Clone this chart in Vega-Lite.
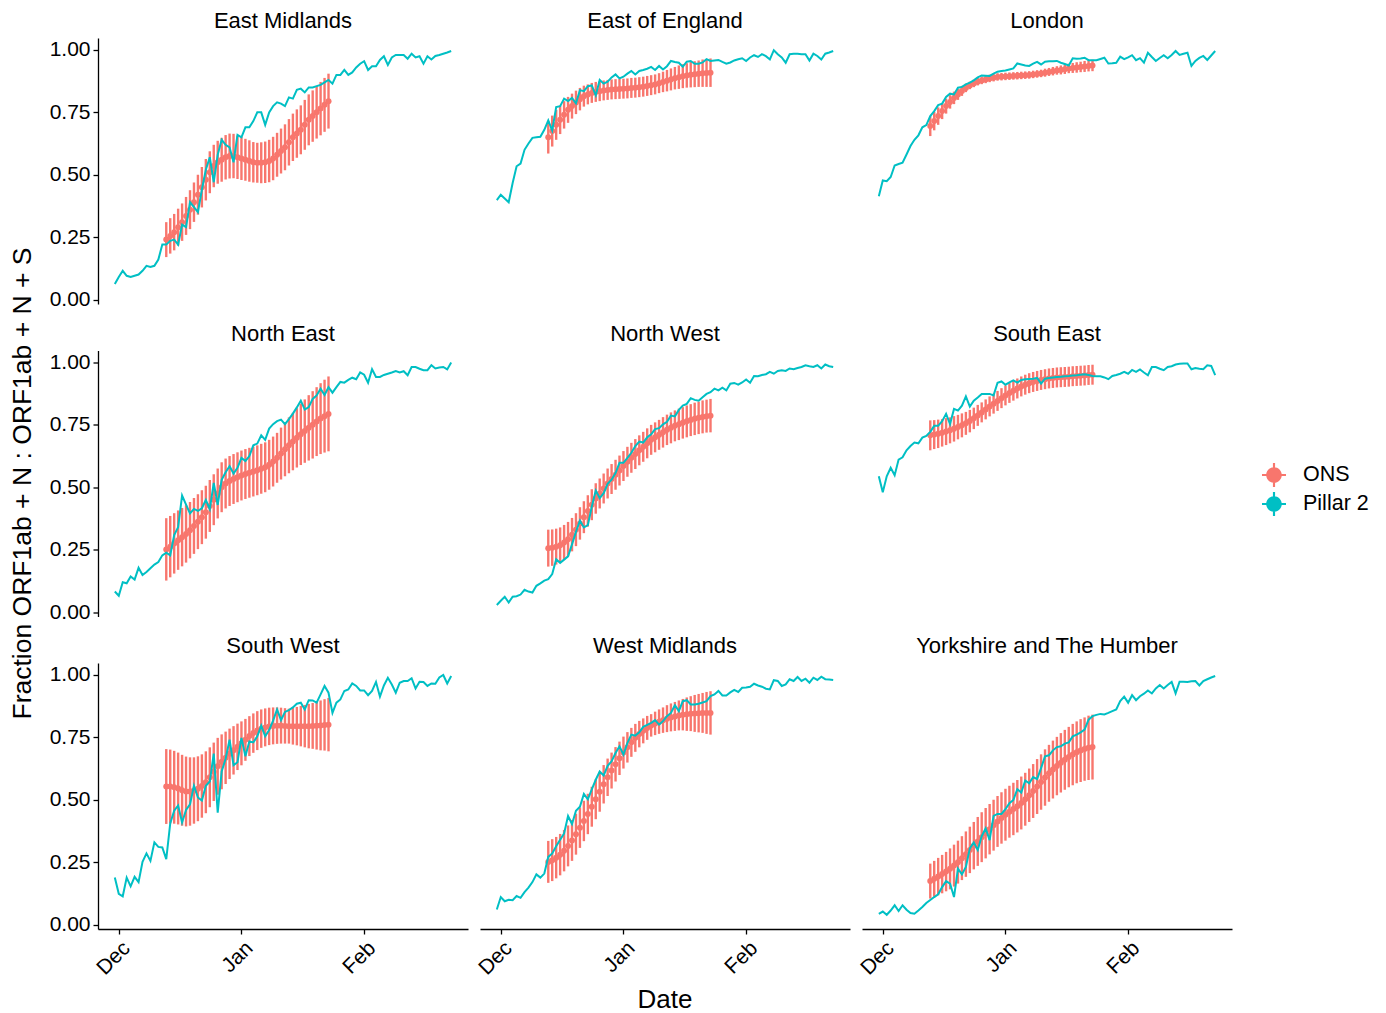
{"$schema":"https://vega.github.io/schema/vega-lite/v6.json","padding":{"left":9,"top":10,"right":5,"bottom":5},
"title":{"text":"Fraction ORF1ab + N : ORF1ab + N + S","orient":"left","anchor":"middle","fontSize":26.5,"font":"Liberation Sans","fontWeight":"normal","color":"black","offset":13,"dx":28},
"data":{"values":[
{"r":"a","t":"2020-11-30","p":0.062},{"r":"a","t":"2020-12-01","p":0.09},{"r":"a","t":"2020-12-02","p":0.115},{"r":"a","t":"2020-12-03","p":0.095},{"r":"a","t":"2020-12-04","p":0.09},{"r":"a","t":"2020-12-05","p":0.095},{"r":"a","t":"2020-12-06","p":0.1},{"r":"a","t":"2020-12-07","p":0.115},{"r":"a","t":"2020-12-08","p":0.135},{"r":"a","t":"2020-12-09","p":0.13},{"r":"a","t":"2020-12-10","p":0.135},{"r":"a","t":"2020-12-11","p":0.16},{"r":"a","t":"2020-12-12","p":0.22},
{"r":"a","t":"2020-12-13","p":0.22,"o":0.24,"e":0.07},{"r":"a","t":"2020-12-14","p":0.235,"o":0.255,"e":0.071},{"r":"a","t":"2020-12-15","p":0.24,"o":0.27,"e":0.073},{"r":"a","t":"2020-12-16","p":0.22,"o":0.29,"e":0.074},{"r":"a","t":"2020-12-17","p":0.3,"o":0.31,"e":0.075},{"r":"a","t":"2020-12-18","p":0.29,"o":0.335,"e":0.076},{"r":"a","t":"2020-12-19","p":0.39,"o":0.36,"e":0.078},{"r":"a","t":"2020-12-20","p":0.37,"o":0.39,"e":0.079},{"r":"a","t":"2020-12-21","p":0.35,"o":0.42,"e":0.08},{"r":"a","t":"2020-12-22","p":0.44,"o":0.45,"e":0.081},{"r":"a","t":"2020-12-23","p":0.52,"o":0.48,"e":0.083},{"r":"a","t":"2020-12-24","p":0.57,"o":0.51,"e":0.084},{"r":"a","t":"2020-12-25","p":0.47,"o":0.535,"e":0.085},{"r":"a","t":"2020-12-26","p":0.58,"o":0.55,"e":0.086},{"r":"a","t":"2020-12-27","p":0.64,"o":0.56,"e":0.088},{"r":"a","t":"2020-12-28","p":0.62,"o":0.57,"e":0.089},{"r":"a","t":"2020-12-29","p":0.61,"o":0.575,"e":0.09},{"r":"a","t":"2020-12-30","p":0.55,"o":0.575,"e":0.089},{"r":"a","t":"2020-12-31","p":0.66,"o":0.57,"e":0.087},{"r":"a","t":"2021-01-01","p":0.65,"o":0.565,"e":0.086},{"r":"a","t":"2021-01-02","p":0.69,"o":0.56,"e":0.084},{"r":"a","t":"2021-01-03","p":0.69,"o":0.555,"e":0.083},{"r":"a","t":"2021-01-04","p":0.715,"o":0.55,"e":0.081},{"r":"a","t":"2021-01-05","p":0.75,"o":0.548,"e":0.08},{"r":"a","t":"2021-01-06","p":0.75,"o":0.548,"e":0.082},{"r":"a","t":"2021-01-07","p":0.7,"o":0.55,"e":0.083},{"r":"a","t":"2021-01-08","p":0.75,"o":0.555,"e":0.085},{"r":"a","t":"2021-01-09","p":0.775,"o":0.565,"e":0.087},{"r":"a","t":"2021-01-10","p":0.79,"o":0.58,"e":0.088},{"r":"a","t":"2021-01-11","p":0.785,"o":0.595,"e":0.09},{"r":"a","t":"2021-01-12","p":0.775,"o":0.61,"e":0.092},{"r":"a","t":"2021-01-13","p":0.81,"o":0.63,"e":0.093},{"r":"a","t":"2021-01-14","p":0.805,"o":0.65,"e":0.095},{"r":"a","t":"2021-01-15","p":0.84,"o":0.665,"e":0.097},{"r":"a","t":"2021-01-16","p":0.845,"o":0.68,"e":0.098},{"r":"a","t":"2021-01-17","p":0.83,"o":0.7,"e":0.1},{"r":"a","t":"2021-01-18","p":0.85,"o":0.72,"e":0.102},{"r":"a","t":"2021-01-19","p":0.85,"o":0.735,"e":0.103},{"r":"a","t":"2021-01-20","p":0.855,"o":0.75,"e":0.105},{"r":"a","t":"2021-01-21","p":0.86,"o":0.765,"e":0.107},{"r":"a","t":"2021-01-22","p":0.87,"o":0.78,"e":0.108},{"r":"a","t":"2021-01-23","p":0.88,"o":0.795,"e":0.11},
{"r":"a","t":"2021-01-24","p":0.865},{"r":"a","t":"2021-01-25","p":0.9},{"r":"a","t":"2021-01-26","p":0.9},{"r":"a","t":"2021-01-27","p":0.92},{"r":"a","t":"2021-01-28","p":0.9},{"r":"a","t":"2021-01-29","p":0.91},{"r":"a","t":"2021-01-30","p":0.93},{"r":"a","t":"2021-01-31","p":0.945},{"r":"a","t":"2021-02-01","p":0.955},{"r":"a","t":"2021-02-02","p":0.92},{"r":"a","t":"2021-02-03","p":0.935},{"r":"a","t":"2021-02-04","p":0.935},{"r":"a","t":"2021-02-05","p":0.96},{"r":"a","t":"2021-02-06","p":0.975},{"r":"a","t":"2021-02-07","p":0.94},{"r":"a","t":"2021-02-08","p":0.97},{"r":"a","t":"2021-02-09","p":0.98},{"r":"a","t":"2021-02-10","p":0.98},{"r":"a","t":"2021-02-11","p":0.98},{"r":"a","t":"2021-02-12","p":0.965},{"r":"a","t":"2021-02-13","p":0.985},{"r":"a","t":"2021-02-14","p":0.97},{"r":"a","t":"2021-02-15","p":0.975},{"r":"a","t":"2021-02-16","p":0.945},{"r":"a","t":"2021-02-17","p":0.975},{"r":"a","t":"2021-02-18","p":0.962},{"r":"a","t":"2021-02-19","p":0.976},{"r":"a","t":"2021-02-20","p":0.98},{"r":"a","t":"2021-02-21","p":0.985},{"r":"a","t":"2021-02-22","p":0.99},{"r":"a","t":"2021-02-23","p":0.996},
{"r":"b","t":"2020-11-30","p":0.398},{"r":"b","t":"2020-12-01","p":0.42},{"r":"b","t":"2020-12-02","p":0.405},{"r":"b","t":"2020-12-03","p":0.39},{"r":"b","t":"2020-12-04","p":0.467},{"r":"b","t":"2020-12-05","p":0.534},{"r":"b","t":"2020-12-06","p":0.545},{"r":"b","t":"2020-12-07","p":0.6},{"r":"b","t":"2020-12-08","p":0.625},{"r":"b","t":"2020-12-09","p":0.648},{"r":"b","t":"2020-12-10","p":0.65},{"r":"b","t":"2020-12-11","p":0.652},{"r":"b","t":"2020-12-12","p":0.68},
{"r":"b","t":"2020-12-13","p":0.718,"o":0.65,"e":0.065},{"r":"b","t":"2020-12-14","p":0.677,"o":0.675,"e":0.062},{"r":"b","t":"2020-12-15","p":0.771,"o":0.7,"e":0.06},{"r":"b","t":"2020-12-16","p":0.775,"o":0.72,"e":0.057},{"r":"b","t":"2020-12-17","p":0.805,"o":0.74,"e":0.055},{"r":"b","t":"2020-12-18","p":0.795,"o":0.76,"e":0.052},{"r":"b","t":"2020-12-19","p":0.808,"o":0.775,"e":0.05},{"r":"b","t":"2020-12-20","p":0.786,"o":0.79,"e":0.047},{"r":"b","t":"2020-12-21","p":0.839,"o":0.803,"e":0.045},{"r":"b","t":"2020-12-22","p":0.835,"o":0.815,"e":0.042},{"r":"b","t":"2020-12-23","p":0.855,"o":0.822,"e":0.04},{"r":"b","t":"2020-12-24","p":0.858,"o":0.828,"e":0.04},{"r":"b","t":"2020-12-25","p":0.818,"o":0.832,"e":0.04},{"r":"b","t":"2020-12-26","p":0.88,"o":0.835,"e":0.04},{"r":"b","t":"2020-12-27","p":0.865,"o":0.838,"e":0.04},{"r":"b","t":"2020-12-28","p":0.873,"o":0.84,"e":0.04},{"r":"b","t":"2020-12-29","p":0.89,"o":0.842,"e":0.04},{"r":"b","t":"2020-12-30","p":0.902,"o":0.843,"e":0.04},{"r":"b","t":"2020-12-31","p":0.886,"o":0.844,"e":0.04},{"r":"b","t":"2021-01-01","p":0.893,"o":0.845,"e":0.04},{"r":"b","t":"2021-01-02","p":0.905,"o":0.846,"e":0.04},{"r":"b","t":"2021-01-03","p":0.916,"o":0.848,"e":0.04},{"r":"b","t":"2021-01-04","p":0.902,"o":0.849,"e":0.04},{"r":"b","t":"2021-01-05","p":0.916,"o":0.851,"e":0.04},{"r":"b","t":"2021-01-06","p":0.92,"o":0.853,"e":0.04},{"r":"b","t":"2021-01-07","p":0.925,"o":0.856,"e":0.04},{"r":"b","t":"2021-01-08","p":0.932,"o":0.859,"e":0.04},{"r":"b","t":"2021-01-09","p":0.92,"o":0.862,"e":0.04},{"r":"b","t":"2021-01-10","p":0.936,"o":0.867,"e":0.04},{"r":"b","t":"2021-01-11","p":0.922,"o":0.872,"e":0.041},{"r":"b","t":"2021-01-12","p":0.935,"o":0.877,"e":0.043},{"r":"b","t":"2021-01-13","p":0.956,"o":0.882,"e":0.044},{"r":"b","t":"2021-01-14","p":0.952,"o":0.887,"e":0.045},{"r":"b","t":"2021-01-15","p":0.949,"o":0.891,"e":0.047},{"r":"b","t":"2021-01-16","p":0.933,"o":0.895,"e":0.048},{"r":"b","t":"2021-01-17","p":0.953,"o":0.898,"e":0.049},{"r":"b","t":"2021-01-18","p":0.956,"o":0.901,"e":0.051},{"r":"b","t":"2021-01-19","p":0.945,"o":0.903,"e":0.052},{"r":"b","t":"2021-01-20","p":0.945,"o":0.905,"e":0.053},{"r":"b","t":"2021-01-21","p":0.95,"o":0.907,"e":0.055},{"r":"b","t":"2021-01-22","p":0.963,"o":0.908,"e":0.056},{"r":"b","t":"2021-01-23","p":0.956,"o":0.909,"e":0.057},
{"r":"b","t":"2021-01-24","p":0.958},{"r":"b","t":"2021-01-25","p":0.96},{"r":"b","t":"2021-01-26","p":0.952},{"r":"b","t":"2021-01-27","p":0.945},{"r":"b","t":"2021-01-28","p":0.95},{"r":"b","t":"2021-01-29","p":0.958},{"r":"b","t":"2021-01-30","p":0.963},{"r":"b","t":"2021-01-31","p":0.967},{"r":"b","t":"2021-02-01","p":0.956},{"r":"b","t":"2021-02-02","p":0.97},{"r":"b","t":"2021-02-03","p":0.979},{"r":"b","t":"2021-02-04","p":0.972},{"r":"b","t":"2021-02-05","p":0.983},{"r":"b","t":"2021-02-06","p":0.975},{"r":"b","t":"2021-02-07","p":0.962},{"r":"b","t":"2021-02-08","p":0.999},{"r":"b","t":"2021-02-09","p":0.983},{"r":"b","t":"2021-02-10","p":0.97},{"r":"b","t":"2021-02-11","p":0.949},{"r":"b","t":"2021-02-12","p":0.983},{"r":"b","t":"2021-02-13","p":0.985},{"r":"b","t":"2021-02-14","p":0.985},{"r":"b","t":"2021-02-15","p":0.983},{"r":"b","t":"2021-02-16","p":0.983},{"r":"b","t":"2021-02-17","p":0.958},{"r":"b","t":"2021-02-18","p":0.985},{"r":"b","t":"2021-02-19","p":0.976},{"r":"b","t":"2021-02-20","p":0.962},{"r":"b","t":"2021-02-21","p":0.985},{"r":"b","t":"2021-02-22","p":0.99},{"r":"b","t":"2021-02-23","p":0.996},
{"r":"c","t":"2020-11-30","p":0.414},{"r":"c","t":"2020-12-01","p":0.477},{"r":"c","t":"2020-12-02","p":0.474},{"r":"c","t":"2020-12-03","p":0.491},{"r":"c","t":"2020-12-04","p":0.537},{"r":"c","t":"2020-12-05","p":0.543},{"r":"c","t":"2020-12-06","p":0.548},{"r":"c","t":"2020-12-07","p":0.581},{"r":"c","t":"2020-12-08","p":0.615},{"r":"c","t":"2020-12-09","p":0.64},{"r":"c","t":"2020-12-10","p":0.658},{"r":"c","t":"2020-12-11","p":0.69},{"r":"c","t":"2020-12-12","p":0.699},
{"r":"c","t":"2020-12-13","p":0.735,"o":0.695,"e":0.04},{"r":"c","t":"2020-12-14","p":0.755,"o":0.715,"e":0.037},{"r":"c","t":"2020-12-15","p":0.779,"o":0.735,"e":0.035},{"r":"c","t":"2020-12-16","p":0.785,"o":0.755,"e":0.032},{"r":"c","t":"2020-12-17","p":0.812,"o":0.775,"e":0.03},{"r":"c","t":"2020-12-18","p":0.825,"o":0.792,"e":0.027},{"r":"c","t":"2020-12-19","p":0.822,"o":0.808,"e":0.025},{"r":"c","t":"2020-12-20","p":0.849,"o":0.822,"e":0.022},{"r":"c","t":"2020-12-21","p":0.852,"o":0.836,"e":0.02},{"r":"c","t":"2020-12-22","p":0.862,"o":0.848,"e":0.017},{"r":"c","t":"2020-12-23","p":0.869,"o":0.858,"e":0.015},{"r":"c","t":"2020-12-24","p":0.878,"o":0.866,"e":0.015},{"r":"c","t":"2020-12-25","p":0.89,"o":0.873,"e":0.015},{"r":"c","t":"2020-12-26","p":0.898,"o":0.878,"e":0.015},{"r":"c","t":"2020-12-27","p":0.897,"o":0.882,"e":0.015},{"r":"c","t":"2020-12-28","p":0.896,"o":0.886,"e":0.015},{"r":"c","t":"2020-12-29","p":0.905,"o":0.889,"e":0.015},{"r":"c","t":"2020-12-30","p":0.913,"o":0.892,"e":0.015},{"r":"c","t":"2020-12-31","p":0.916,"o":0.893,"e":0.015},{"r":"c","t":"2021-01-01","p":0.918,"o":0.894,"e":0.015},{"r":"c","t":"2021-01-02","p":0.922,"o":0.895,"e":0.015},{"r":"c","t":"2021-01-03","p":0.926,"o":0.896,"e":0.015},{"r":"c","t":"2021-01-04","p":0.946,"o":0.897,"e":0.015},{"r":"c","t":"2021-01-05","p":0.942,"o":0.898,"e":0.015},{"r":"c","t":"2021-01-06","p":0.938,"o":0.899,"e":0.015},{"r":"c","t":"2021-01-07","p":0.936,"o":0.9,"e":0.015},{"r":"c","t":"2021-01-08","p":0.945,"o":0.902,"e":0.015},{"r":"c","t":"2021-01-09","p":0.952,"o":0.904,"e":0.015},{"r":"c","t":"2021-01-10","p":0.942,"o":0.906,"e":0.015},{"r":"c","t":"2021-01-11","p":0.953,"o":0.909,"e":0.016},{"r":"c","t":"2021-01-12","p":0.955,"o":0.912,"e":0.016},{"r":"c","t":"2021-01-13","p":0.955,"o":0.915,"e":0.017},{"r":"c","t":"2021-01-14","p":0.956,"o":0.918,"e":0.017},{"r":"c","t":"2021-01-15","p":0.949,"o":0.92,"e":0.018},{"r":"c","t":"2021-01-16","p":0.944,"o":0.923,"e":0.019},{"r":"c","t":"2021-01-17","p":0.938,"o":0.926,"e":0.019},{"r":"c","t":"2021-01-18","p":0.967,"o":0.928,"e":0.02},{"r":"c","t":"2021-01-19","p":0.965,"o":0.93,"e":0.021},{"r":"c","t":"2021-01-20","p":0.966,"o":0.932,"e":0.021},{"r":"c","t":"2021-01-21","p":0.969,"o":0.934,"e":0.022},{"r":"c","t":"2021-01-22","p":0.959,"o":0.936,"e":0.022},{"r":"c","t":"2021-01-23","p":0.959,"o":0.938,"e":0.023},
{"r":"c","t":"2021-01-24","p":0.959},{"r":"c","t":"2021-01-25","p":0.964},{"r":"c","t":"2021-01-26","p":0.969},{"r":"c","t":"2021-01-27","p":0.946},{"r":"c","t":"2021-01-28","p":0.947},{"r":"c","t":"2021-01-29","p":0.949},{"r":"c","t":"2021-01-30","p":0.973},{"r":"c","t":"2021-01-31","p":0.963},{"r":"c","t":"2021-02-01","p":0.97},{"r":"c","t":"2021-02-02","p":0.979},{"r":"c","t":"2021-02-03","p":0.959},{"r":"c","t":"2021-02-04","p":0.967},{"r":"c","t":"2021-02-05","p":0.949},{"r":"c","t":"2021-02-06","p":0.989},{"r":"c","t":"2021-02-07","p":0.972},{"r":"c","t":"2021-02-08","p":0.956},{"r":"c","t":"2021-02-09","p":0.968},{"r":"c","t":"2021-02-10","p":0.979},{"r":"c","t":"2021-02-11","p":0.967},{"r":"c","t":"2021-02-12","p":0.98},{"r":"c","t":"2021-02-13","p":0.996},{"r":"c","t":"2021-02-14","p":0.98},{"r":"c","t":"2021-02-15","p":0.985},{"r":"c","t":"2021-02-16","p":0.989},{"r":"c","t":"2021-02-17","p":0.936},{"r":"c","t":"2021-02-18","p":0.956},{"r":"c","t":"2021-02-19","p":0.968},{"r":"c","t":"2021-02-20","p":0.976},{"r":"c","t":"2021-02-21","p":0.96},{"r":"c","t":"2021-02-22","p":0.978},{"r":"c","t":"2021-02-23","p":0.996},
{"r":"d","t":"2020-11-30","p":0.082},{"r":"d","t":"2020-12-01","p":0.065},{"r":"d","t":"2020-12-02","p":0.119},{"r":"d","t":"2020-12-03","p":0.115},{"r":"d","t":"2020-12-04","p":0.142},{"r":"d","t":"2020-12-05","p":0.13},{"r":"d","t":"2020-12-06","p":0.177},{"r":"d","t":"2020-12-07","p":0.148},{"r":"d","t":"2020-12-08","p":0.16},{"r":"d","t":"2020-12-09","p":0.175},{"r":"d","t":"2020-12-10","p":0.19},{"r":"d","t":"2020-12-11","p":0.2},{"r":"d","t":"2020-12-12","p":0.227},
{"r":"d","t":"2020-12-13","p":0.238,"o":0.251,"e":0.125},{"r":"d","t":"2020-12-14","p":0.227,"o":0.262,"e":0.123},{"r":"d","t":"2020-12-15","p":0.308,"o":0.275,"e":0.121},{"r":"d","t":"2020-12-16","p":0.34,"o":0.288,"e":0.119},{"r":"d","t":"2020-12-17","p":0.467,"o":0.3,"e":0.117},{"r":"d","t":"2020-12-18","p":0.43,"o":0.313,"e":0.115},{"r":"d","t":"2020-12-19","p":0.395,"o":0.328,"e":0.113},{"r":"d","t":"2020-12-20","p":0.413,"o":0.345,"e":0.112},{"r":"d","t":"2020-12-21","p":0.405,"o":0.362,"e":0.11},{"r":"d","t":"2020-12-22","p":0.416,"o":0.38,"e":0.108},{"r":"d","t":"2020-12-23","p":0.449,"o":0.4,"e":0.106},{"r":"d","t":"2020-12-24","p":0.412,"o":0.425,"e":0.104},{"r":"d","t":"2020-12-25","p":0.517,"o":0.45,"e":0.102},{"r":"d","t":"2020-12-26","p":0.429,"o":0.475,"e":0.1},{"r":"d","t":"2020-12-27","p":0.53,"o":0.5,"e":0.1},{"r":"d","t":"2020-12-28","p":0.56,"o":0.515,"e":0.1},{"r":"d","t":"2020-12-29","p":0.584,"o":0.525,"e":0.1},{"r":"d","t":"2020-12-30","p":0.555,"o":0.533,"e":0.1},{"r":"d","t":"2020-12-31","p":0.578,"o":0.54,"e":0.1},{"r":"d","t":"2021-01-01","p":0.618,"o":0.547,"e":0.1},{"r":"d","t":"2021-01-02","p":0.605,"o":0.553,"e":0.1},{"r":"d","t":"2021-01-03","p":0.625,"o":0.558,"e":0.1},{"r":"d","t":"2021-01-04","p":0.668,"o":0.563,"e":0.1},{"r":"d","t":"2021-01-05","p":0.675,"o":0.568,"e":0.1},{"r":"d","t":"2021-01-06","p":0.708,"o":0.574,"e":0.1},{"r":"d","t":"2021-01-07","p":0.69,"o":0.58,"e":0.1},{"r":"d","t":"2021-01-08","p":0.735,"o":0.59,"e":0.1},{"r":"d","t":"2021-01-09","p":0.753,"o":0.603,"e":0.1},{"r":"d","t":"2021-01-10","p":0.765,"o":0.618,"e":0.1},{"r":"d","t":"2021-01-11","p":0.771,"o":0.635,"e":0.104},{"r":"d","t":"2021-01-12","p":0.753,"o":0.652,"e":0.108},{"r":"d","t":"2021-01-13","p":0.773,"o":0.668,"e":0.112},{"r":"d","t":"2021-01-14","p":0.795,"o":0.683,"e":0.115},{"r":"d","t":"2021-01-15","p":0.82,"o":0.698,"e":0.119},{"r":"d","t":"2021-01-16","p":0.847,"o":0.712,"e":0.123},{"r":"d","t":"2021-01-17","p":0.811,"o":0.725,"e":0.127},{"r":"d","t":"2021-01-18","p":0.821,"o":0.738,"e":0.131},{"r":"d","t":"2021-01-19","p":0.854,"o":0.75,"e":0.135},{"r":"d","t":"2021-01-20","p":0.868,"o":0.763,"e":0.138},{"r":"d","t":"2021-01-21","p":0.895,"o":0.775,"e":0.142},{"r":"d","t":"2021-01-22","p":0.87,"o":0.785,"e":0.146},{"r":"d","t":"2021-01-23","p":0.901,"o":0.794,"e":0.15},
{"r":"d","t":"2021-01-24","p":0.879},{"r":"d","t":"2021-01-25","p":0.901},{"r":"d","t":"2021-01-26","p":0.922},{"r":"d","t":"2021-01-27","p":0.919},{"r":"d","t":"2021-01-28","p":0.93},{"r":"d","t":"2021-01-29","p":0.939},{"r":"d","t":"2021-01-30","p":0.933},{"r":"d","t":"2021-01-31","p":0.96},{"r":"d","t":"2021-02-01","p":0.951},{"r":"d","t":"2021-02-02","p":0.919},{"r":"d","t":"2021-02-03","p":0.973},{"r":"d","t":"2021-02-04","p":0.942},{"r":"d","t":"2021-02-05","p":0.942},{"r":"d","t":"2021-02-06","p":0.95},{"r":"d","t":"2021-02-07","p":0.955},{"r":"d","t":"2021-02-08","p":0.96},{"r":"d","t":"2021-02-09","p":0.966},{"r":"d","t":"2021-02-10","p":0.96},{"r":"d","t":"2021-02-11","p":0.965},{"r":"d","t":"2021-02-12","p":0.949},{"r":"d","t":"2021-02-13","p":0.982},{"r":"d","t":"2021-02-14","p":0.982},{"r":"d","t":"2021-02-15","p":0.975},{"r":"d","t":"2021-02-16","p":0.969},{"r":"d","t":"2021-02-17","p":0.969},{"r":"d","t":"2021-02-18","p":0.989},{"r":"d","t":"2021-02-19","p":0.976},{"r":"d","t":"2021-02-20","p":0.98},{"r":"d","t":"2021-02-21","p":0.982},{"r":"d","t":"2021-02-22","p":0.972},{"r":"d","t":"2021-02-23","p":1.0},
{"r":"e","t":"2020-11-30","p":0.028},{"r":"e","t":"2020-12-01","p":0.045},{"r":"e","t":"2020-12-02","p":0.061},{"r":"e","t":"2020-12-03","p":0.038},{"r":"e","t":"2020-12-04","p":0.061},{"r":"e","t":"2020-12-05","p":0.063},{"r":"e","t":"2020-12-06","p":0.07},{"r":"e","t":"2020-12-07","p":0.089},{"r":"e","t":"2020-12-08","p":0.082},{"r":"e","t":"2020-12-09","p":0.078},{"r":"e","t":"2020-12-10","p":0.105},{"r":"e","t":"2020-12-11","p":0.115},{"r":"e","t":"2020-12-12","p":0.126},
{"r":"e","t":"2020-12-13","p":0.132,"o":0.256,"e":0.074},{"r":"e","t":"2020-12-14","p":0.152,"o":0.258,"e":0.073},{"r":"e","t":"2020-12-15","p":0.211,"o":0.262,"e":0.072},{"r":"e","t":"2020-12-16","p":0.197,"o":0.268,"e":0.071},{"r":"e","t":"2020-12-17","p":0.21,"o":0.279,"e":0.07},{"r":"e","t":"2020-12-18","p":0.223,"o":0.292,"e":0.069},{"r":"e","t":"2020-12-19","p":0.271,"o":0.31,"e":0.067},{"r":"e","t":"2020-12-20","p":0.321,"o":0.33,"e":0.066},{"r":"e","t":"2020-12-21","p":0.366,"o":0.355,"e":0.065},{"r":"e","t":"2020-12-22","p":0.339,"o":0.38,"e":0.064},{"r":"e","t":"2020-12-23","p":0.348,"o":0.405,"e":0.063},{"r":"e","t":"2020-12-24","p":0.422,"o":0.43,"e":0.062},{"r":"e","t":"2020-12-25","p":0.487,"o":0.455,"e":0.061},{"r":"e","t":"2020-12-26","p":0.456,"o":0.475,"e":0.06},{"r":"e","t":"2020-12-27","p":0.476,"o":0.495,"e":0.06},{"r":"e","t":"2020-12-28","p":0.514,"o":0.515,"e":0.06},{"r":"e","t":"2020-12-29","p":0.53,"o":0.533,"e":0.06},{"r":"e","t":"2020-12-30","p":0.557,"o":0.55,"e":0.06},{"r":"e","t":"2020-12-31","p":0.598,"o":0.567,"e":0.06},{"r":"e","t":"2021-01-01","p":0.598,"o":0.585,"e":0.06},{"r":"e","t":"2021-01-02","p":0.618,"o":0.602,"e":0.06},{"r":"e","t":"2021-01-03","p":0.638,"o":0.618,"e":0.06},{"r":"e","t":"2021-01-04","p":0.665,"o":0.633,"e":0.06},{"r":"e","t":"2021-01-05","p":0.683,"o":0.648,"e":0.06},{"r":"e","t":"2021-01-06","p":0.679,"o":0.662,"e":0.06},{"r":"e","t":"2021-01-07","p":0.7,"o":0.676,"e":0.06},{"r":"e","t":"2021-01-08","p":0.712,"o":0.69,"e":0.06},{"r":"e","t":"2021-01-09","p":0.733,"o":0.7,"e":0.06},{"r":"e","t":"2021-01-10","p":0.737,"o":0.71,"e":0.06},{"r":"e","t":"2021-01-11","p":0.752,"o":0.72,"e":0.061},{"r":"e","t":"2021-01-12","p":0.762,"o":0.73,"e":0.061},{"r":"e","t":"2021-01-13","p":0.787,"o":0.738,"e":0.062},{"r":"e","t":"2021-01-14","p":0.784,"o":0.746,"e":0.062},{"r":"e","t":"2021-01-15","p":0.81,"o":0.752,"e":0.063},{"r":"e","t":"2021-01-16","p":0.827,"o":0.758,"e":0.063},{"r":"e","t":"2021-01-17","p":0.834,"o":0.764,"e":0.064},{"r":"e","t":"2021-01-18","p":0.857,"o":0.769,"e":0.064},{"r":"e","t":"2021-01-19","p":0.85,"o":0.774,"e":0.065},{"r":"e","t":"2021-01-20","p":0.847,"o":0.778,"e":0.065},{"r":"e","t":"2021-01-21","p":0.861,"o":0.782,"e":0.066},{"r":"e","t":"2021-01-22","p":0.874,"o":0.785,"e":0.066},{"r":"e","t":"2021-01-23","p":0.881,"o":0.787,"e":0.067},
{"r":"e","t":"2021-01-24","p":0.895},{"r":"e","t":"2021-01-25","p":0.888},{"r":"e","t":"2021-01-26","p":0.899},{"r":"e","t":"2021-01-27","p":0.888},{"r":"e","t":"2021-01-28","p":0.915},{"r":"e","t":"2021-01-29","p":0.918},{"r":"e","t":"2021-01-30","p":0.911},{"r":"e","t":"2021-01-31","p":0.92},{"r":"e","t":"2021-02-01","p":0.932},{"r":"e","t":"2021-02-02","p":0.919},{"r":"e","t":"2021-02-03","p":0.946},{"r":"e","t":"2021-02-04","p":0.945},{"r":"e","t":"2021-02-05","p":0.95},{"r":"e","t":"2021-02-06","p":0.953},{"r":"e","t":"2021-02-07","p":0.962},{"r":"e","t":"2021-02-08","p":0.955},{"r":"e","t":"2021-02-09","p":0.966},{"r":"e","t":"2021-02-10","p":0.969},{"r":"e","t":"2021-02-11","p":0.966},{"r":"e","t":"2021-02-12","p":0.976},{"r":"e","t":"2021-02-13","p":0.973},{"r":"e","t":"2021-02-14","p":0.978},{"r":"e","t":"2021-02-15","p":0.982},{"r":"e","t":"2021-02-16","p":0.989},{"r":"e","t":"2021-02-17","p":0.985},{"r":"e","t":"2021-02-18","p":0.982},{"r":"e","t":"2021-02-19","p":0.989},{"r":"e","t":"2021-02-20","p":0.976},{"r":"e","t":"2021-02-21","p":0.992},{"r":"e","t":"2021-02-22","p":0.985},{"r":"e","t":"2021-02-23","p":0.982},
{"r":"f","t":"2020-11-30","p":0.544},{"r":"f","t":"2020-12-01","p":0.48},{"r":"f","t":"2020-12-02","p":0.544},{"r":"f","t":"2020-12-03","p":0.578},{"r":"f","t":"2020-12-04","p":0.548},{"r":"f","t":"2020-12-05","p":0.611},{"r":"f","t":"2020-12-06","p":0.62},{"r":"f","t":"2020-12-07","p":0.648},{"r":"f","t":"2020-12-08","p":0.665},{"r":"f","t":"2020-12-09","p":0.679},{"r":"f","t":"2020-12-10","p":0.676},{"r":"f","t":"2020-12-11","p":0.699},{"r":"f","t":"2020-12-12","p":0.706},
{"r":"f","t":"2020-12-13","p":0.722,"o":0.708,"e":0.06},{"r":"f","t":"2020-12-14","p":0.746,"o":0.711,"e":0.058},{"r":"f","t":"2020-12-15","p":0.746,"o":0.714,"e":0.057},{"r":"f","t":"2020-12-16","p":0.765,"o":0.718,"e":0.055},{"r":"f","t":"2020-12-17","p":0.794,"o":0.723,"e":0.054},{"r":"f","t":"2020-12-18","p":0.753,"o":0.728,"e":0.052},{"r":"f","t":"2020-12-19","p":0.814,"o":0.734,"e":0.051},{"r":"f","t":"2020-12-20","p":0.807,"o":0.741,"e":0.049},{"r":"f","t":"2020-12-21","p":0.827,"o":0.748,"e":0.048},{"r":"f","t":"2020-12-22","p":0.864,"o":0.756,"e":0.046},{"r":"f","t":"2020-12-23","p":0.823,"o":0.765,"e":0.045},{"r":"f","t":"2020-12-24","p":0.847,"o":0.776,"e":0.043},{"r":"f","t":"2020-12-25","p":0.86,"o":0.788,"e":0.042},{"r":"f","t":"2020-12-26","p":0.874,"o":0.8,"e":0.04},{"r":"f","t":"2020-12-27","p":0.874,"o":0.812,"e":0.04},{"r":"f","t":"2020-12-28","p":0.874,"o":0.824,"e":0.04},{"r":"f","t":"2020-12-29","p":0.868,"o":0.835,"e":0.04},{"r":"f","t":"2020-12-30","p":0.919,"o":0.846,"e":0.04},{"r":"f","t":"2020-12-31","p":0.924,"o":0.857,"e":0.04},{"r":"f","t":"2021-01-01","p":0.911,"o":0.868,"e":0.04},{"r":"f","t":"2021-01-02","p":0.92,"o":0.878,"e":0.04},{"r":"f","t":"2021-01-03","p":0.928,"o":0.887,"e":0.04},{"r":"f","t":"2021-01-04","p":0.919,"o":0.896,"e":0.04},{"r":"f","t":"2021-01-05","p":0.93,"o":0.904,"e":0.04},{"r":"f","t":"2021-01-06","p":0.933,"o":0.911,"e":0.04},{"r":"f","t":"2021-01-07","p":0.934,"o":0.917,"e":0.04},{"r":"f","t":"2021-01-08","p":0.935,"o":0.922,"e":0.04},{"r":"f","t":"2021-01-09","p":0.938,"o":0.926,"e":0.04},{"r":"f","t":"2021-01-10","p":0.915,"o":0.93,"e":0.04},{"r":"f","t":"2021-01-11","p":0.935,"o":0.933,"e":0.04},{"r":"f","t":"2021-01-12","p":0.938,"o":0.936,"e":0.04},{"r":"f","t":"2021-01-13","p":0.94,"o":0.938,"e":0.04},{"r":"f","t":"2021-01-14","p":0.942,"o":0.94,"e":0.04},{"r":"f","t":"2021-01-15","p":0.943,"o":0.941,"e":0.04},{"r":"f","t":"2021-01-16","p":0.945,"o":0.942,"e":0.04},{"r":"f","t":"2021-01-17","p":0.946,"o":0.943,"e":0.04},{"r":"f","t":"2021-01-18","p":0.948,"o":0.945,"e":0.04},{"r":"f","t":"2021-01-19","p":0.949,"o":0.946,"e":0.04},{"r":"f","t":"2021-01-20","p":0.951,"o":0.947,"e":0.04},{"r":"f","t":"2021-01-21","p":0.953,"o":0.948,"e":0.04},{"r":"f","t":"2021-01-22","p":0.95,"o":0.95,"e":0.04},{"r":"f","t":"2021-01-23","p":0.946,"o":0.951,"e":0.04},
{"r":"f","t":"2021-01-24","p":0.945},{"r":"f","t":"2021-01-25","p":0.945},{"r":"f","t":"2021-01-26","p":0.94},{"r":"f","t":"2021-01-27","p":0.933},{"r":"f","t":"2021-01-28","p":0.946},{"r":"f","t":"2021-01-29","p":0.95},{"r":"f","t":"2021-01-30","p":0.955},{"r":"f","t":"2021-01-31","p":0.962},{"r":"f","t":"2021-02-01","p":0.955},{"r":"f","t":"2021-02-02","p":0.97},{"r":"f","t":"2021-02-03","p":0.962},{"r":"f","t":"2021-02-04","p":0.972},{"r":"f","t":"2021-02-05","p":0.96},{"r":"f","t":"2021-02-06","p":0.949},{"r":"f","t":"2021-02-07","p":0.982},{"r":"f","t":"2021-02-08","p":0.982},{"r":"f","t":"2021-02-09","p":0.975},{"r":"f","t":"2021-02-10","p":0.969},{"r":"f","t":"2021-02-11","p":0.982},{"r":"f","t":"2021-02-12","p":0.985},{"r":"f","t":"2021-02-13","p":0.992},{"r":"f","t":"2021-02-14","p":0.995},{"r":"f","t":"2021-02-15","p":0.996},{"r":"f","t":"2021-02-16","p":0.996},{"r":"f","t":"2021-02-17","p":0.973},{"r":"f","t":"2021-02-18","p":0.978},{"r":"f","t":"2021-02-19","p":0.975},{"r":"f","t":"2021-02-20","p":0.973},{"r":"f","t":"2021-02-21","p":0.989},{"r":"f","t":"2021-02-22","p":0.986},{"r":"f","t":"2021-02-23","p":0.949},
{"r":"g","t":"2020-11-30","p":0.188},{"r":"g","t":"2020-12-01","p":0.123},{"r":"g","t":"2020-12-02","p":0.113},{"r":"g","t":"2020-12-03","p":0.188},{"r":"g","t":"2020-12-04","p":0.153},{"r":"g","t":"2020-12-05","p":0.191},{"r":"g","t":"2020-12-06","p":0.17},{"r":"g","t":"2020-12-07","p":0.251},{"r":"g","t":"2020-12-08","p":0.285},{"r":"g","t":"2020-12-09","p":0.255},{"r":"g","t":"2020-12-10","p":0.329},{"r":"g","t":"2020-12-11","p":0.311},{"r":"g","t":"2020-12-12","p":0.309},
{"r":"g","t":"2020-12-13","p":0.262,"o":0.553,"e":0.15},{"r":"g","t":"2020-12-14","p":0.405,"o":0.553,"e":0.148},{"r":"g","t":"2020-12-15","p":0.456,"o":0.55,"e":0.146},{"r":"g","t":"2020-12-16","p":0.477,"o":0.545,"e":0.144},{"r":"g","t":"2020-12-17","p":0.409,"o":0.538,"e":0.142},{"r":"g","t":"2020-12-18","p":0.459,"o":0.533,"e":0.14},{"r":"g","t":"2020-12-19","p":0.482,"o":0.533,"e":0.137},{"r":"g","t":"2020-12-20","p":0.556,"o":0.537,"e":0.133},{"r":"g","t":"2020-12-21","p":0.509,"o":0.544,"e":0.13},{"r":"g","t":"2020-12-22","p":0.497,"o":0.555,"e":0.127},{"r":"g","t":"2020-12-23","p":0.556,"o":0.57,"e":0.124},{"r":"g","t":"2020-12-24","p":0.573,"o":0.59,"e":0.12},{"r":"g","t":"2020-12-25","p":0.685,"o":0.612,"e":0.117},{"r":"g","t":"2020-12-26","p":0.448,"o":0.634,"e":0.114},{"r":"g","t":"2020-12-27","p":0.613,"o":0.652,"e":0.11},{"r":"g","t":"2020-12-28","p":0.664,"o":0.668,"e":0.105},{"r":"g","t":"2020-12-29","p":0.741,"o":0.684,"e":0.101},{"r":"g","t":"2020-12-30","p":0.638,"o":0.698,"e":0.097},{"r":"g","t":"2020-12-31","p":0.65,"o":0.712,"e":0.093},{"r":"g","t":"2021-01-01","p":0.748,"o":0.726,"e":0.088},{"r":"g","t":"2021-01-02","p":0.674,"o":0.74,"e":0.084},{"r":"g","t":"2021-01-03","p":0.734,"o":0.755,"e":0.08},{"r":"g","t":"2021-01-04","p":0.73,"o":0.767,"e":0.079},{"r":"g","t":"2021-01-05","p":0.754,"o":0.777,"e":0.078},{"r":"g","t":"2021-01-06","p":0.797,"o":0.785,"e":0.077},{"r":"g","t":"2021-01-07","p":0.754,"o":0.79,"e":0.076},{"r":"g","t":"2021-01-08","p":0.779,"o":0.794,"e":0.075},{"r":"g","t":"2021-01-09","p":0.817,"o":0.796,"e":0.074},{"r":"g","t":"2021-01-10","p":0.862,"o":0.797,"e":0.073},{"r":"g","t":"2021-01-11","p":0.819,"o":0.797,"e":0.072},{"r":"g","t":"2021-01-12","p":0.852,"o":0.796,"e":0.071},{"r":"g","t":"2021-01-13","p":0.859,"o":0.795,"e":0.07},{"r":"g","t":"2021-01-14","p":0.87,"o":0.795,"e":0.074},{"r":"g","t":"2021-01-15","p":0.885,"o":0.795,"e":0.077},{"r":"g","t":"2021-01-16","p":0.889,"o":0.795,"e":0.081},{"r":"g","t":"2021-01-17","p":0.862,"o":0.795,"e":0.085},{"r":"g","t":"2021-01-18","p":0.899,"o":0.795,"e":0.089},{"r":"g","t":"2021-01-19","p":0.898,"o":0.796,"e":0.092},{"r":"g","t":"2021-01-20","p":0.889,"o":0.797,"e":0.096},{"r":"g","t":"2021-01-21","p":0.922,"o":0.798,"e":0.1},{"r":"g","t":"2021-01-22","p":0.956,"o":0.8,"e":0.103},{"r":"g","t":"2021-01-23","p":0.929,"o":0.801,"e":0.107},
{"r":"g","t":"2021-01-24","p":0.848},{"r":"g","t":"2021-01-25","p":0.889},{"r":"g","t":"2021-01-26","p":0.902},{"r":"g","t":"2021-01-27","p":0.936},{"r":"g","t":"2021-01-28","p":0.942},{"r":"g","t":"2021-01-29","p":0.966},{"r":"g","t":"2021-01-30","p":0.956},{"r":"g","t":"2021-01-31","p":0.938},{"r":"g","t":"2021-02-01","p":0.938},{"r":"g","t":"2021-02-02","p":0.919},{"r":"g","t":"2021-02-03","p":0.936},{"r":"g","t":"2021-02-04","p":0.972},{"r":"g","t":"2021-02-05","p":0.913},{"r":"g","t":"2021-02-06","p":0.958},{"r":"g","t":"2021-02-07","p":0.989},{"r":"g","t":"2021-02-08","p":0.962},{"r":"g","t":"2021-02-09","p":0.929},{"r":"g","t":"2021-02-10","p":0.969},{"r":"g","t":"2021-02-11","p":0.976},{"r":"g","t":"2021-02-12","p":0.976},{"r":"g","t":"2021-02-13","p":0.987},{"r":"g","t":"2021-02-14","p":0.946},{"r":"g","t":"2021-02-15","p":0.973},{"r":"g","t":"2021-02-16","p":0.972},{"r":"g","t":"2021-02-17","p":0.956},{"r":"g","t":"2021-02-18","p":0.966},{"r":"g","t":"2021-02-19","p":0.965},{"r":"g","t":"2021-02-20","p":0.99},{"r":"g","t":"2021-02-21","p":1.0},{"r":"g","t":"2021-02-22","p":0.966},{"r":"g","t":"2021-02-23","p":0.996},
{"r":"h","t":"2020-11-30","p":0.06},{"r":"h","t":"2020-12-01","p":0.11},{"r":"h","t":"2020-12-02","p":0.093},{"r":"h","t":"2020-12-03","p":0.099},{"r":"h","t":"2020-12-04","p":0.097},{"r":"h","t":"2020-12-05","p":0.114},{"r":"h","t":"2020-12-06","p":0.107},{"r":"h","t":"2020-12-07","p":0.13},{"r":"h","t":"2020-12-08","p":0.148},{"r":"h","t":"2020-12-09","p":0.17},{"r":"h","t":"2020-12-10","p":0.201},{"r":"h","t":"2020-12-11","p":0.188},{"r":"h","t":"2020-12-12","p":0.204},
{"r":"h","t":"2020-12-13","p":0.271,"o":0.251,"e":0.084},{"r":"h","t":"2020-12-14","p":0.285,"o":0.258,"e":0.084},{"r":"h","t":"2020-12-15","p":0.314,"o":0.268,"e":0.083},{"r":"h","t":"2020-12-16","p":0.34,"o":0.28,"e":0.083},{"r":"h","t":"2020-12-17","p":0.365,"o":0.296,"e":0.083},{"r":"h","t":"2020-12-18","p":0.435,"o":0.315,"e":0.082},{"r":"h","t":"2020-12-19","p":0.403,"o":0.337,"e":0.082},{"r":"h","t":"2020-12-20","p":0.456,"o":0.362,"e":0.082},{"r":"h","t":"2020-12-21","p":0.472,"o":0.388,"e":0.081},{"r":"h","t":"2020-12-22","p":0.523,"o":0.415,"e":0.081},{"r":"h","t":"2020-12-23","p":0.502,"o":0.443,"e":0.081},{"r":"h","t":"2020-12-24","p":0.542,"o":0.472,"e":0.08},{"r":"h","t":"2020-12-25","p":0.58,"o":0.502,"e":0.08},{"r":"h","t":"2020-12-26","p":0.613,"o":0.532,"e":0.08},{"r":"h","t":"2020-12-27","p":0.597,"o":0.562,"e":0.077},{"r":"h","t":"2020-12-28","p":0.636,"o":0.59,"e":0.075},{"r":"h","t":"2020-12-29","p":0.654,"o":0.617,"e":0.072},{"r":"h","t":"2020-12-30","p":0.687,"o":0.642,"e":0.069},{"r":"h","t":"2020-12-31","p":0.714,"o":0.666,"e":0.067},{"r":"h","t":"2021-01-01","p":0.681,"o":0.689,"e":0.064},{"r":"h","t":"2021-01-02","p":0.728,"o":0.71,"e":0.061},{"r":"h","t":"2021-01-03","p":0.761,"o":0.73,"e":0.058},{"r":"h","t":"2021-01-04","p":0.757,"o":0.748,"e":0.056},{"r":"h","t":"2021-01-05","p":0.77,"o":0.763,"e":0.053},{"r":"h","t":"2021-01-06","p":0.792,"o":0.776,"e":0.05},{"r":"h","t":"2021-01-07","p":0.8,"o":0.788,"e":0.048},{"r":"h","t":"2021-01-08","p":0.808,"o":0.798,"e":0.045},{"r":"h","t":"2021-01-09","p":0.819,"o":0.806,"e":0.047},{"r":"h","t":"2021-01-10","p":0.801,"o":0.813,"e":0.049},{"r":"h","t":"2021-01-11","p":0.815,"o":0.819,"e":0.051},{"r":"h","t":"2021-01-12","p":0.835,"o":0.825,"e":0.054},{"r":"h","t":"2021-01-13","p":0.848,"o":0.83,"e":0.056},{"r":"h","t":"2021-01-14","p":0.879,"o":0.834,"e":0.058},{"r":"h","t":"2021-01-15","p":0.855,"o":0.838,"e":0.06},{"r":"h","t":"2021-01-16","p":0.895,"o":0.841,"e":0.063},{"r":"h","t":"2021-01-17","p":0.899,"o":0.843,"e":0.067},{"r":"h","t":"2021-01-18","p":0.882,"o":0.845,"e":0.07},{"r":"h","t":"2021-01-19","p":0.882,"o":0.846,"e":0.074},{"r":"h","t":"2021-01-20","p":0.885,"o":0.847,"e":0.077},{"r":"h","t":"2021-01-21","p":0.89,"o":0.848,"e":0.08},{"r":"h","t":"2021-01-22","p":0.895,"o":0.848,"e":0.084},{"r":"h","t":"2021-01-23","p":0.915,"o":0.848,"e":0.087},
{"r":"h","t":"2021-01-24","p":0.922},{"r":"h","t":"2021-01-25","p":0.936},{"r":"h","t":"2021-01-26","p":0.918},{"r":"h","t":"2021-01-27","p":0.918},{"r":"h","t":"2021-01-28","p":0.93},{"r":"h","t":"2021-01-29","p":0.94},{"r":"h","t":"2021-01-30","p":0.932},{"r":"h","t":"2021-01-31","p":0.949},{"r":"h","t":"2021-02-01","p":0.95},{"r":"h","t":"2021-02-02","p":0.953},{"r":"h","t":"2021-02-03","p":0.965},{"r":"h","t":"2021-02-04","p":0.958},{"r":"h","t":"2021-02-05","p":0.953},{"r":"h","t":"2021-02-06","p":0.945},{"r":"h","t":"2021-02-07","p":0.942},{"r":"h","t":"2021-02-08","p":0.979},{"r":"h","t":"2021-02-09","p":0.976},{"r":"h","t":"2021-02-10","p":0.956},{"r":"h","t":"2021-02-11","p":0.962},{"r":"h","t":"2021-02-12","p":0.983},{"r":"h","t":"2021-02-13","p":0.976},{"r":"h","t":"2021-02-14","p":0.992},{"r":"h","t":"2021-02-15","p":0.976},{"r":"h","t":"2021-02-16","p":0.985},{"r":"h","t":"2021-02-17","p":0.969},{"r":"h","t":"2021-02-18","p":0.989},{"r":"h","t":"2021-02-19","p":0.98},{"r":"h","t":"2021-02-20","p":0.993},{"r":"h","t":"2021-02-21","p":0.983},{"r":"h","t":"2021-02-22","p":0.982},{"r":"h","t":"2021-02-23","p":0.98},
{"r":"i","t":"2020-11-30","p":0.043},{"r":"i","t":"2020-12-01","p":0.052},{"r":"i","t":"2020-12-02","p":0.039},{"r":"i","t":"2020-12-03","p":0.056},{"r":"i","t":"2020-12-04","p":0.077},{"r":"i","t":"2020-12-05","p":0.054},{"r":"i","t":"2020-12-06","p":0.077},{"r":"i","t":"2020-12-07","p":0.059},{"r":"i","t":"2020-12-08","p":0.046},{"r":"i","t":"2020-12-09","p":0.043},{"r":"i","t":"2020-12-10","p":0.056},{"r":"i","t":"2020-12-11","p":0.07},{"r":"i","t":"2020-12-12","p":0.086},
{"r":"i","t":"2020-12-13","p":0.098,"o":0.174,"e":0.07},{"r":"i","t":"2020-12-14","p":0.11,"o":0.183,"e":0.072},{"r":"i","t":"2020-12-15","p":0.121,"o":0.192,"e":0.075},{"r":"i","t":"2020-12-16","p":0.15,"o":0.202,"e":0.077},{"r":"i","t":"2020-12-17","p":0.174,"o":0.212,"e":0.079},{"r":"i","t":"2020-12-18","p":0.164,"o":0.223,"e":0.082},{"r":"i","t":"2020-12-19","p":0.11,"o":0.236,"e":0.084},{"r":"i","t":"2020-12-20","p":0.224,"o":0.25,"e":0.086},{"r":"i","t":"2020-12-21","p":0.201,"o":0.266,"e":0.088},{"r":"i","t":"2020-12-22","p":0.231,"o":0.282,"e":0.091},{"r":"i","t":"2020-12-23","p":0.305,"o":0.299,"e":0.093},{"r":"i","t":"2020-12-24","p":0.329,"o":0.316,"e":0.095},{"r":"i","t":"2020-12-25","p":0.298,"o":0.333,"e":0.098},{"r":"i","t":"2020-12-26","p":0.354,"o":0.35,"e":0.1},{"r":"i","t":"2020-12-27","p":0.385,"o":0.366,"e":0.101},{"r":"i","t":"2020-12-28","p":0.338,"o":0.382,"e":0.101},{"r":"i","t":"2020-12-29","p":0.435,"o":0.398,"e":0.102},{"r":"i","t":"2020-12-30","p":0.443,"o":0.413,"e":0.102},{"r":"i","t":"2020-12-31","p":0.443,"o":0.427,"e":0.103},{"r":"i","t":"2021-01-01","p":0.462,"o":0.44,"e":0.104},{"r":"i","t":"2021-01-02","p":0.486,"o":0.452,"e":0.104},{"r":"i","t":"2021-01-03","p":0.499,"o":0.463,"e":0.105},{"r":"i","t":"2021-01-04","p":0.542,"o":0.474,"e":0.105},{"r":"i","t":"2021-01-05","p":0.529,"o":0.487,"e":0.106},{"r":"i","t":"2021-01-06","p":0.577,"o":0.502,"e":0.106},{"r":"i","t":"2021-01-07","p":0.566,"o":0.518,"e":0.107},{"r":"i","t":"2021-01-08","p":0.591,"o":0.535,"e":0.108},{"r":"i","t":"2021-01-09","p":0.583,"o":0.553,"e":0.11},{"r":"i","t":"2021-01-10","p":0.627,"o":0.571,"e":0.111},{"r":"i","t":"2021-01-11","p":0.674,"o":0.589,"e":0.113},{"r":"i","t":"2021-01-12","p":0.678,"o":0.606,"e":0.114},{"r":"i","t":"2021-01-13","p":0.698,"o":0.621,"e":0.116},{"r":"i","t":"2021-01-14","p":0.711,"o":0.635,"e":0.117},{"r":"i","t":"2021-01-15","p":0.714,"o":0.648,"e":0.119},{"r":"i","t":"2021-01-16","p":0.725,"o":0.66,"e":0.12},{"r":"i","t":"2021-01-17","p":0.73,"o":0.671,"e":0.121},{"r":"i","t":"2021-01-18","p":0.754,"o":0.681,"e":0.123},{"r":"i","t":"2021-01-19","p":0.761,"o":0.69,"e":0.124},{"r":"i","t":"2021-01-20","p":0.77,"o":0.697,"e":0.126},{"r":"i","t":"2021-01-21","p":0.781,"o":0.703,"e":0.127},{"r":"i","t":"2021-01-22","p":0.821,"o":0.708,"e":0.129},{"r":"i","t":"2021-01-23","p":0.835,"o":0.711,"e":0.13},
{"r":"i","t":"2021-01-24","p":0.84},{"r":"i","t":"2021-01-25","p":0.844},{"r":"i","t":"2021-01-26","p":0.842},{"r":"i","t":"2021-01-27","p":0.848},{"r":"i","t":"2021-01-28","p":0.855},{"r":"i","t":"2021-01-29","p":0.862},{"r":"i","t":"2021-01-30","p":0.895},{"r":"i","t":"2021-01-31","p":0.913},{"r":"i","t":"2021-02-01","p":0.889},{"r":"i","t":"2021-02-02","p":0.919},{"r":"i","t":"2021-02-03","p":0.899},{"r":"i","t":"2021-02-04","p":0.915},{"r":"i","t":"2021-02-05","p":0.925},{"r":"i","t":"2021-02-06","p":0.938},{"r":"i","t":"2021-02-07","p":0.926},{"r":"i","t":"2021-02-08","p":0.946},{"r":"i","t":"2021-02-09","p":0.96},{"r":"i","t":"2021-02-10","p":0.946},{"r":"i","t":"2021-02-11","p":0.96},{"r":"i","t":"2021-02-12","p":0.972},{"r":"i","t":"2021-02-13","p":0.926},{"r":"i","t":"2021-02-14","p":0.973},{"r":"i","t":"2021-02-15","p":0.973},{"r":"i","t":"2021-02-16","p":0.972},{"r":"i","t":"2021-02-17","p":0.975},{"r":"i","t":"2021-02-18","p":0.976},{"r":"i","t":"2021-02-19","p":0.958},{"r":"i","t":"2021-02-20","p":0.976},{"r":"i","t":"2021-02-21","p":0.983},{"r":"i","t":"2021-02-22","p":0.99},{"r":"i","t":"2021-02-23","p":0.996}
]},
"transform":[{"lookup":"r","from":{"data":{"values":[{"r":"a","region":"East Midlands"},{"r":"b","region":"East of England"},{"r":"c","region":"London"},{"r":"d","region":"North East"},{"r":"e","region":"North West"},{"r":"f","region":"South East"},{"r":"g","region":"South West"},{"r":"h","region":"West Midlands"},{"r":"i","region":"Yorkshire and The Humber"}]},"key":"r","fields":["region"]}}],
"facet":{"field":"region","type":"nominal","title":"Date","header":{"labelFontSize":22,"labelFont":"Liberation Sans","labelColor":"black","labelPadding":5,"labelOrient":"top","titleOrient":"bottom","titleFontSize":26,"titleFont":"Liberation Sans","titleFontWeight":"normal","titleColor":"black","titlePadding":8}},
"columns":3,
"spacing":{"row":18.5,"column":12},
"spec":{"width":370,"height":266,
"layer":[
{"transform":[{"filter":"isValid(datum.o)"}],"mark":{"type":"errorbar","thickness":2.4,"color":"#F8766D"},
"encoding":{"x":{"field":"t","type":"temporal","title":null,"scale":{"type":"utc","domain":[{"year":2020,"month":11,"date":25,"hours":18,"utc":true},{"year":2021,"month":2,"date":27,"hours":6,"utc":true}]},"axis":{"values":[{"year":2020,"month":12,"date":1,"utc":true},{"year":2021,"month":1,"date":1,"utc":true},{"year":2021,"month":2,"date":1,"utc":true}],"labelExpr":"utcFormat(datum.value, '%b')","labelAngle":-45,"labelAlign":"right","labelBaseline":"top"}},
"y":{"field":"o","type":"quantitative","title":null,"scale":{"domain":[-0.018,1.048],"nice":false,"zero":false},"axis":{"values":[0,0.25,0.5,0.75,1],"format":".2f"}},
"yError":{"field":"e"},
"color":{"datum":"ONS","scale":{"domain":["ONS","Pillar 2"],"range":["#F8766D","#00BFC4"]},"legend":{"title":null,"orient":"none","legendX":1164,"legendY":425,"labelFontSize":21.5,"labelFont":"Liberation Sans","labelColor":"black","symbolType":"M-0.65,0A0.65,0.65 0 1,1 0.65,0A0.65,0.65 0 1,1 -0.65,0Z M-0.09,-1H0.09V1H-0.09Z M-1,-0.09H1V0.09H-1Z","symbolSize":576,"symbolStrokeWidth":0,"rowPadding":5,"labelOffset":17,"encode":{"symbols":{"update":{"fill":{"scale":"color","field":"value"},"stroke":{"value":"transparent"},"opacity":{"value":1}}}}}}}},
{"mark":{"type":"point","filled":true,"size":36,"opacity":1},
"encoding":{"x":{"field":"t","type":"temporal"},"y":{"field":"o","type":"quantitative","title":null},"color":{"datum":"ONS"}}},
{"mark":{"type":"line","strokeWidth":2},
"encoding":{"x":{"field":"t","type":"temporal"},"y":{"field":"p","type":"quantitative","title":null},"color":{"datum":"Pillar 2"}}}
]},
"config":{"font":"Liberation Sans","view":{"stroke":null},
"axis":{"domainColor":"black","domainWidth":1.3,"tickColor":"black","tickWidth":1.3,"tickSize":5,"labelFontSize":21,"labelColor":"black","labelFont":"Liberation Sans","grid":false,"labelPadding":3}}
}
